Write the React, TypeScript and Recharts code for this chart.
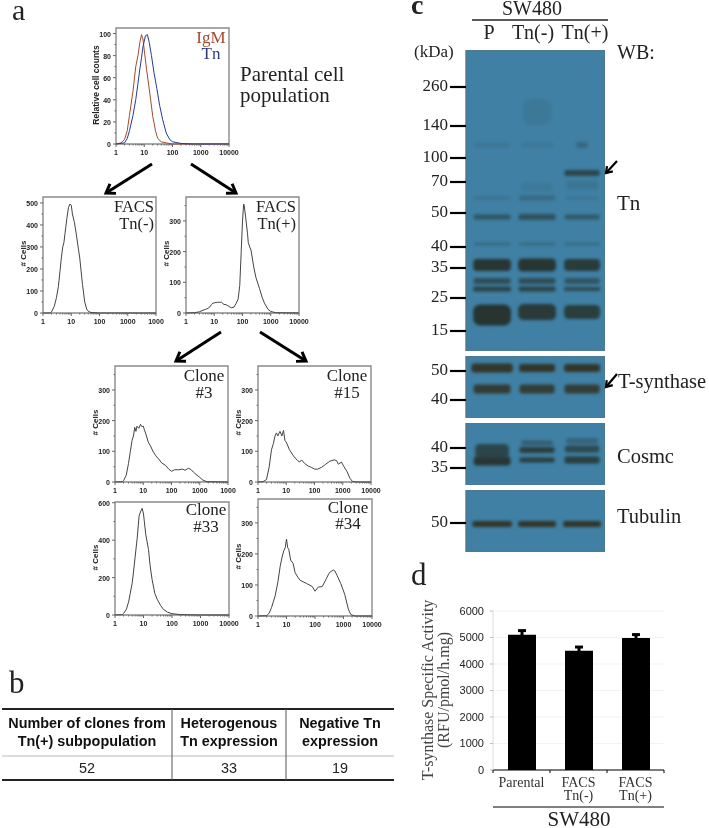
import {
  Bar, BarChart, CartesianGrid, ErrorBar, Line, LineChart, ReferenceArea,
  Scatter, ScatterChart, XAxis, YAxis,
} from 'recharts'

const SANS = '"Liberation Sans", Arial, sans-serif'
const SERIF = '"Liberation Serif", "Times New Roman", serif'

// flow histograms: [fluorescence, count]
const igmCurve = [[1, 0], [1.5, 1], [2, 4], [2.5, 12], [3, 26], [4, 48], [5, 70], [6, 80], [7, 92], [8, 99], [9, 95], [10, 85], [12, 68], [15, 50], [20, 25], [25, 12], [30, 5], [40, 2], [60, 1], [100, 0], [10000, 0]]
const tnCurve = [[1, 0], [2, 1], [2.5, 5], [3, 12], [4, 26], [5, 40], [6, 55], [7, 68], [8, 78], [9, 88], [10, 93], [11, 98], [13, 99], [15, 92], [18, 80], [22, 65], [28, 50], [35, 35], [45, 22], [60, 10], [80, 4], [100, 2], [200, 0.5], [500, 0], [10000, 0]]
const facsNeg = [[1, 0], [1.8, 0], [2, 5], [2.5, 30], [3, 70], [3.5, 120], [4, 190], [4.5, 255], [5, 300], [5.5, 320], [6, 360], [7, 430], [8, 480], [9, 495], [10, 490], [11, 450], [13, 410], [15, 360], [18, 290], [20, 250], [25, 130], [30, 50], [35, 18], [40, 8], [50, 2], [100, 0], [10000, 0]]
const facsPos = [[1, 0], [2, 1], [3, 4], [4, 9], [5, 12], [6, 15], [7, 20], [8, 28], [9, 32], [10, 33], [13, 35], [18, 35], [22, 28], [26, 27], [30, 24], [40, 17], [50, 19], [60, 32], [70, 45], [80, 90], [90, 200], [100, 300], [110, 355], [115, 350], [130, 310], [150, 260], [160, 230], [180, 215], [200, 205], [250, 150], [300, 115], [400, 80], [500, 50], [600, 32], [800, 12], [1000, 5], [1500, 1], [10000, 0]]
const clone3 = [[1, 0], [1.8, 1], [2, 4], [2.5, 22], [3, 60], [3.5, 100], [4, 135], [4.5, 150], [5, 178], [5.5, 165], [6, 182], [7, 175], [8, 188], [9, 180], [10, 182], [11, 170], [12, 160], [13, 150], [15, 130], [18, 118], [22, 100], [28, 85], [35, 75], [45, 62], [60, 55], [80, 42], [100, 35], [130, 40], [180, 40], [250, 42], [300, 38], [400, 45], [500, 40], [600, 32], [800, 22], [1000, 15], [1300, 6], [1800, 1], [10000, 0]]
const clone15 = [[1, 0], [1.5, 1], [2, 8], [2.5, 50], [3, 105], [3.5, 125], [4, 150], [4.5, 160], [5, 150], [6, 165], [7, 150], [8, 168], [9, 135], [10, 130], [13, 105], [18, 85], [25, 70], [30, 65], [35, 72], [45, 60], [60, 52], [80, 47], [100, 42], [130, 42], [180, 48], [250, 58], [350, 68], [500, 72], [600, 70], [700, 58], [900, 65], [1100, 50], [1400, 35], [1800, 12], [2200, 2], [3000, 0], [10000, 0]]
const clone33 = [[1, 0], [1.8, 2], [2, 8], [2.5, 30], [3, 70], [4, 170], [4.5, 235], [5, 300], [6, 410], [7, 530], [8, 555], [9, 570], [10, 540], [12, 430], [15, 350], [17, 265], [20, 190], [25, 115], [30, 85], [40, 50], [50, 30], [70, 15], [100, 7], [200, 2], [1000, 0], [10000, 0]]
const clone34 = [[1, 0], [2, 1], [2.5, 10], [3, 28], [4, 65], [5, 110], [6, 160], [7, 190], [8, 210], [9, 220], [10, 248], [11, 220], [12, 215], [14, 180], [17, 170], [20, 140], [25, 125], [30, 115], [50, 105], [80, 95], [100, 80], [130, 93], [180, 95], [250, 120], [300, 135], [350, 143], [450, 148], [500, 145], [600, 130], [800, 105], [1100, 70], [1500, 20], [1800, 5], [2500, 0], [10000, 0]]

const decades = [1, 10, 100, 1000, 10000]
const minorDecades = [2, 3, 4, 5, 6, 7, 8, 9, 20, 30, 40, 50, 60, 70, 80, 90, 200, 300, 400, 500, 600, 700, 800, 900, 2000, 3000, 4000, 5000, 6000, 7000, 8000, 9000]
const fullLabels = ['1', '10', '100', '1000', '10000']
const cutLabels = ['1', '10', '100', '1000', '1000']

// blots: [lane, migration, band thickness, density, lane span]
const tnBands = [
  [1, 95, 4, 0.14, 0.8], [2, 95, 4, 0.12, 0.7], [3, 95, 6, 0.3, 0.25],
  [2, 62, 26, 0.1, 0.6], [2, 137, 7, 0.1, 0.7], [3, 135, 9, 0.13, 0.7],
  [3, 123, 6, 0.75, 0.78],
  [1, 148, 4, 0.15, 0.8], [2, 148, 5, 0.28, 0.8], [3, 148, 3, 0.14, 0.7],
  [1, 167, 5, 0.55, 0.82], [2, 167, 6, 0.6, 0.82], [3, 167, 5, 0.5, 0.78],
  [1, 194, 3, 0.28, 0.8], [2, 194, 3, 0.28, 0.8], [3, 194, 3, 0.26, 0.78],
  [1, 215, 12, 0.95, 0.84], [2, 215, 13, 0.95, 0.84], [3, 215, 12, 0.88, 0.8],
  [1, 231, 6, 0.65, 0.82], [2, 231, 6, 0.65, 0.82], [3, 231, 6, 0.55, 0.78],
  [1, 239, 5, 0.8, 0.84], [2, 239, 5, 0.8, 0.82], [3, 239, 4, 0.7, 0.8],
  [1, 265, 21, 0.98, 0.84], [2, 262, 16, 0.9, 0.84], [3, 262, 14, 0.85, 0.8],
]
const synthaseBands = [
  [1, 12, 9, 1, 0.92], [2, 12, 8, 1, 0.8], [3, 12, 8, 1, 0.8],
  [1, 33, 9, 0.92, 0.82], [2, 33, 9, 0.9, 0.78], [3, 33, 9, 0.9, 0.78],
]
const cosmcBands = [
  [1, 28, 14, 0.75, 0.75], [1, 38, 9, 0.95, 0.82],
  [2, 20, 5, 0.45, 0.7], [2, 27, 6, 0.85, 0.78], [2, 37, 5, 0.85, 0.78],
  [3, 18, 6, 0.35, 0.7], [3, 26, 7, 0.7, 0.76], [3, 37, 7, 0.85, 0.78],
]
const tubulinBands = [
  [1, 34, 6, 1, 0.88], [2, 34, 6, 1, 0.84], [3, 34, 6, 1, 0.84],
]

const tnMarkers = [[37, '260'], [76, '140'], [108, '100'], [132, '70'], [163, '50'], [197, '40'], [218, '35'], [248, '25'], [281, '15']]
const synthaseMarkers = [[15, '50'], [44, '40']]
const cosmcMarkers = [[25, '40'], [45, '35']]
const tubulinMarkers = [[33, '50']]

const activityNames = ['Parental', 'FACS\nTn(-)', 'FACS\nTn(+)']
const activityValues = [5100, 4500, 4980]
const activityErrors = [160, 140, 130]

const tableHeaders = [['Number of clones from', 'Tn(+) subpopulation'], ['Heterogenous', 'Tn expression'], ['Negative Tn', 'expression']]
const tableValues = ['52', '33', '19']

function toPoints(curve: number[][]) {
  return curve.map(([x, y]) => ({ x, y }))
}

function Histogram({ left, top, width, height, yMax, yTicks, yMinor, xLabels, yLabel = '# Cells', labelSize = 8, curve, second }: any) {
  return (
    <div style={{ position: 'absolute', left: left - 30, top: top - 2 }}>
      <LineChart width={width + 30 + 14} height={height + 2 + 18} margin={{ top: 2, right: 14, bottom: 0, left: 0 }}>
        <XAxis
          type="number" dataKey="x" scale="log" domain={[1, 10000]} height={18}
          ticks={[...decades, ...minorDecades]} interval={0} allowDuplicatedCategory={false}
          tickSize={0} tickMargin={0} axisLine={false} tickLine={false}
          tick={(p: any) => {
            const i = decades.indexOf(p.payload.value)
            return (
              <g>
                <line x1={p.x} x2={p.x} y1={p.y} y2={p.y + (i >= 0 ? 3 : 1.5)} stroke="#666" />
                {i >= 0 && <text x={p.x} y={p.y + 11} textAnchor="middle" fontSize={7} fontWeight={700} fontFamily={SANS} fill="#222">{xLabels[i]}</text>}
              </g>
            )
          }}
        />
        <YAxis
          type="number" dataKey="y" domain={[0, yMax]} width={30}
          ticks={[...yTicks, ...yMinor]} interval={0}
          tickSize={0} tickMargin={0} axisLine={false} tickLine={false}
          tick={(p: any) => {
            const major = yTicks.includes(p.payload.value)
            return (
              <g>
                <line x1={p.x} x2={p.x - (major ? 3 : 1.5)} y1={p.y} y2={p.y} stroke="#666" />
                {major && <text x={p.x - 5} y={p.y + 3} textAnchor="end" fontSize={7} fontWeight={700} fontFamily={SANS} fill="#222">{p.payload.value}</text>}
              </g>
            )
          }}
        />
        <ReferenceArea x1={1} x2={10000} y1={0} y2={yMax} fill="none" stroke="#8a8a8a" strokeWidth={1.4} />
        <Line data={toPoints(curve)} dataKey="y" type="linear" stroke={second ? '#a5492f' : '#444'} strokeWidth={1} dot={false} isAnimationActive={false} />
        {second && <Line data={toPoints(second)} dataKey="y" type="linear" stroke="#2c3a8c" strokeWidth={1} dot={false} isAnimationActive={false} />}
      </LineChart>
      <div style={{
        position: 'absolute', left: 9.5, top: 2 + height / 2 - 6, width: 0, height: 12, whiteSpace: 'nowrap',
        font: `700 ${labelSize}px ${SANS}`, color: '#222',
      }}>
        <span style={{ position: 'absolute', transform: 'translate(-50%,0) rotate(-90deg)' }}>{yLabel}</span>
      </div>
    </div>
  )
}

function Blot({ top, height, bands, markers, bandColor = '#27322d' }: any) {
  const points = bands.map(([lane, migration, thickness, density, span]: number[]) => ({ lane, migration, thickness, density, span }))
  return (
    <div style={{ position: 'absolute', left: 419, top }}>
      <ScatterChart width={186} height={height} margin={{ top: 0, right: 0, bottom: 0, left: 0 }}>
        <XAxis type="number" dataKey="lane" domain={[0.42, 3.51]} hide />
        <YAxis
          type="number" dataKey="migration" domain={[0, height]} reversed width={47}
          ticks={markers.map((m: any) => m[0])} interval={0}
          tickSize={0} tickMargin={0} axisLine={false} tickLine={false}
          tick={(p: any) => {
            const marker = markers.find((m: any) => m[0] === p.payload.value)
            return (
              <g>
                <line x1={p.x - 16} x2={p.x} y1={p.y} y2={p.y} stroke="#000" strokeWidth={2.2} />
                <text x={p.x - 18} y={p.y + 4} textAnchor="end" fontSize={17} fontFamily={SERIF} fill="#222">{marker ? marker[1] : ''}</text>
              </g>
            )
          }}
        />
        <ReferenceArea x1={0.42} x2={3.51} y1={0} y2={height} fill="#3f80a4" fillOpacity={1} stroke="#54788a" strokeWidth={1.4} />
        <Scatter
          data={points} isAnimationActive={false}
          shape={(p: any) => {
            const w = p.payload.span * 45
            const h = p.payload.thickness
            return (
              <rect
                x={p.cx - w / 2} y={p.cy - h / 2} width={w} height={h} rx={h / 3}
                fill={bandColor} fillOpacity={p.payload.density}
                style={{ filter: 'blur(1.7px)' }}
              />
            )
          }}
        />
      </ScatterChart>
    </div>
  )
}

function ActivityChart() {
  const data = activityNames.map((name, i) => ({ name, activity: activityValues[i], err: activityErrors[i] }))
  return (
    <div style={{ position: 'absolute', left: 448, top: 605 }}>
      <BarChart width={222} height={200} data={data} margin={{ top: 6, right: 6, bottom: 0, left: 0 }} barSize={28}>
        <CartesianGrid vertical={false} stroke="#f3f3f3" />
        <XAxis
          dataKey="name" height={35} interval={0} tickSize={0} tickMargin={0} tickLine={false}
          axisLine={{ stroke: '#000', strokeWidth: 1 }}
          tick={(p: any) => {
            const lines = String(p.payload.value).split('\n')
            return (
              <g>
                <line x1={p.x - 28.5} x2={p.x - 28.5} y1={p.y} y2={p.y + 3} stroke="#000" />
                {p.index === 2 && <line x1={p.x + 28.5} x2={p.x + 28.5} y1={p.y} y2={p.y + 3} stroke="#000" />}
                {lines.map((line, i) => (
                  <text key={line} x={p.x} y={p.y + 17 + i * 13} textAnchor="middle" fontSize={14} fontFamily={SERIF} fill="#333">{line}</text>
                ))}
              </g>
            )
          }}
        />
        <YAxis
          domain={[0, 6000]} ticks={[0, 1000, 2000, 3000, 4000, 5000, 6000]} width={45}
          tickSize={3} tickMargin={6} axisLine={{ stroke: '#dcdcdc' }} tickLine={{ stroke: '#bdbdbd' }}
          tick={{ fontSize: 11, fontFamily: SANS, fill: '#222' }}
        />
        <Bar dataKey="activity" fill="#000000" isAnimationActive={false}>
          <ErrorBar dataKey="err" width={4} strokeWidth={3} stroke="#000" direction="y" />
        </Bar>
      </BarChart>
    </div>
  )
}

function Label({ x, y, size = 17, anchor = 'start', color = '#222', family = SERIF, weight = 400, children }: any) {
  return <text x={x} y={y} fontSize={size} textAnchor={anchor} fill={color} fontFamily={family} fontWeight={weight}>{children}</text>
}

function Arrow({ x1, y1, x2, y2, w = 3, head = 10 }: any) {
  const a = Math.atan2(y2 - y1, x2 - x1)
  const p1 = [x2 - head * Math.cos(a - 0.6), y2 - head * Math.sin(a - 0.6)]
  const p2 = [x2 - head * Math.cos(a + 0.6), y2 - head * Math.sin(a + 0.6)]
  return (
    <g stroke="#000" strokeWidth={w} fill="none">
      <line x1={x1} y1={y1} x2={x2} y2={y2} />
      <polyline points={`${p1[0]},${p1[1]} ${x2},${y2} ${p2[0]},${p2[1]}`} />
    </g>
  )
}

function Overlay() {
  const colCenters = [87, 229, 340]
  return (
    <svg width={709} height={828} style={{ position: 'absolute', left: 0, top: 0, pointerEvents: 'none' }}>
      <Label x={12} y={20} size={30}>a</Label>
      <Label x={9} y={693} size={31}>b</Label>
      <Label x={411} y={14} size={28} weight={700}>c</Label>
      <Label x={411} y={585} size={31}>d</Label>

      <Label x={211} y={43} size={17} anchor="middle" color="#a5492f">IgM</Label>
      <Label x={211} y={59} size={17} anchor="middle" color="#2c3a7c">Tn</Label>
      <Label x={240} y={81} size={21}>Parental cell</Label>
      <Label x={240} y={102} size={21}>population</Label>

      <Label x={154} y={212} anchor="end" size={16.5}>FACS</Label>
      <Label x={154} y={229} anchor="end" size={16.5}>Tn(-)</Label>
      <Label x={296} y={212} anchor="end" size={16.5}>FACS</Label>
      <Label x={296} y={229} anchor="end" size={16.5}>Tn(+)</Label>
      <Label x={204} y={381} anchor="middle">Clone</Label>
      <Label x={204} y={398} anchor="middle">#3</Label>
      <Label x={347} y={381} anchor="middle">Clone</Label>
      <Label x={347} y={398} anchor="middle">#15</Label>
      <Label x={206} y={515} anchor="middle">Clone</Label>
      <Label x={206} y={532} anchor="middle">#33</Label>
      <Label x={348} y={513} anchor="middle">Clone</Label>
      <Label x={348} y={529} anchor="middle">#34</Label>

      <Arrow x1={152} y1={164} x2={106} y2={193} />
      <Arrow x1={191} y1={164} x2={236} y2={193} />
      <Arrow x1={221} y1={332} x2={176} y2={361} />
      <Arrow x1={260} y1={332} x2={306} y2={361} />

      <line x1={2} x2={394} y1={709} y2={709} stroke="#222" strokeWidth={2} />
      <line x1={2} x2={394} y1={756} y2={756} stroke="#bbb" strokeWidth={1.2} />
      <line x1={2} x2={394} y1={780} y2={780} stroke="#222" strokeWidth={2} />
      <line x1={172} x2={172} y1={709} y2={780} stroke="#555" />
      <line x1={286} x2={286} y1={709} y2={780} stroke="#555" />
      {tableHeaders.map((lines, i) => lines.map((line, j) => (
        <Label key={line} x={colCenters[i]} y={728 + j * 18} size={14.4} anchor="middle" family={SANS} weight={700} color="#111">{line}</Label>
      )))}
      {tableValues.map((v, i) => (
        <Label key={v} x={colCenters[i]} y={773} size={14.4} anchor="middle" family={SANS} color="#222">{v}</Label>
      ))}

      <Label x={532} y={15} size={20} anchor="middle">SW480</Label>
      <line x1={472} x2={608} y1={20} y2={20} stroke="#222" strokeWidth={1.3} />
      <Label x={489} y={39} size={20} anchor="middle">P</Label>
      <Label x={533} y={39} size={20} anchor="middle">Tn(-)</Label>
      <Label x={585} y={39} size={20} anchor="middle">Tn(+)</Label>
      <Label x={414} y={57} size={17}>(kDa)</Label>
      <Label x={617} y={59} size={20}>WB:</Label>
      <Label x={617} y={210} size={21}>Tn</Label>
      <Label x={618} y={388} size={20.5}>T-synthase</Label>
      <Label x={617} y={463} size={20.5}>Cosmc</Label>
      <Label x={617} y={523} size={20.5}>Tubulin</Label>
      <Arrow x1={617} y1={161} x2={606} y2={173} w={2.2} head={7} />
      <Arrow x1={617} y1={374} x2={606} y2={387} w={2.2} head={7} />

      <g transform="translate(433,690) rotate(-90)">
        <Label x={0} y={0} size={16} anchor="middle" color="#444">T-synthase Specific Activity</Label>
        <Label x={0} y={16} size={16} anchor="middle" color="#444">(RFU/pmol/h.mg)</Label>
      </g>
      <line x1={493} x2={664} y1={807} y2={807} stroke="#000" strokeWidth={1.2} />
      <Label x={579} y={826} size={21} anchor="middle">SW480</Label>
    </svg>
  )
}

export default function App() {
  return (
    <div style={{ position: 'absolute', left: 0, top: 0, width: 709, height: 828, background: '#fff', overflow: 'hidden', filter: 'blur(0.3px)' }}>
      <Histogram left={116} top={28} width={113} height={116} yMax={105} yTicks={[0, 20, 40, 60, 80, 100]} yMinor={[10, 30, 50, 70, 90]} xLabels={fullLabels} yLabel="Relative cell counts" labelSize={8.5} curve={igmCurve} second={tnCurve} />
      <Histogram left={43} top={197} width={113} height={116} yMax={527} yTicks={[0, 100, 200, 300, 400, 500]} yMinor={[50, 150, 250, 350, 450]} xLabels={cutLabels} curve={facsNeg} />
      <Histogram left={186} top={197} width={113} height={116} yMax={378} yTicks={[0, 100, 200, 300]} yMinor={[50, 150, 250, 350]} xLabels={fullLabels} curve={facsPos} />
      <Histogram left={115} top={366} width={113} height={116} yMax={378} yTicks={[0, 100, 200, 300]} yMinor={[50, 150, 250, 350]} xLabels={cutLabels} curve={clone3} />
      <Histogram left={258} top={366} width={113} height={116} yMax={378} yTicks={[0, 100, 200, 300]} yMinor={[50, 150, 250, 350]} xLabels={fullLabels} curve={clone15} />
      <Histogram left={115} top={502} width={114} height={113} yMax={604} yTicks={[0, 200, 400, 600]} yMinor={[100, 300, 500]} xLabels={fullLabels} curve={clone33} />
      <Histogram left={258} top={499} width={114} height={117} yMax={377} yTicks={[0, 100, 200, 300]} yMinor={[50, 150, 250, 350]} xLabels={fullLabels} curve={clone34} />

      <Blot top={50} height={301} bands={tnBands} markers={tnMarkers} />
      <Blot top={356} height={62} bands={synthaseBands} markers={synthaseMarkers} bandColor="#33352a" />
      <Blot top={423} height={62} bands={cosmcBands} markers={cosmcMarkers} />
      <Blot top={490} height={62} bands={tubulinBands} markers={tubulinMarkers} bandColor="#33352a" />

      <ActivityChart />
      <Overlay />
    </div>
  )
}
